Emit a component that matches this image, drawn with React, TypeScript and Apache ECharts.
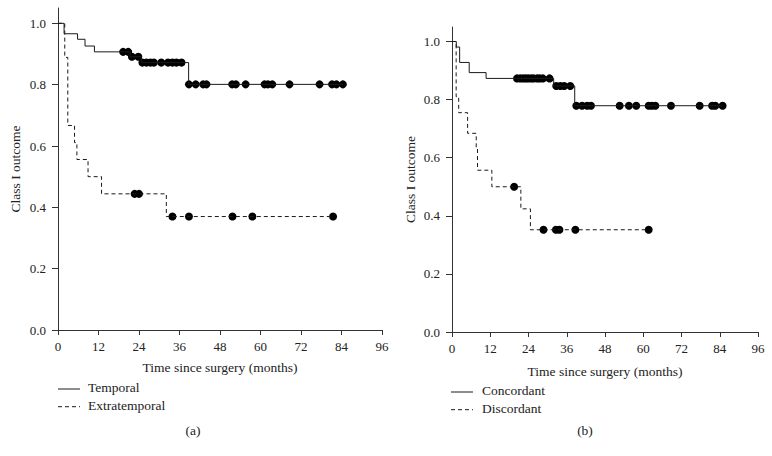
import React, { useEffect, useRef } from "react";
import * as echarts from "echarts";

const FONT = "'Liberation Serif', 'Times New Roman', serif";

const xTicks = [0, 12, 24, 36, 48, 60, 72, 84, 96];
const yTicks = [0, 0.2, 0.4, 0.6, 0.8, 1.0];

// Panel (a)
const temporalEventTimes = [1.8, 5.8, 8.0, 10.8, 21.4, 24.7, 38.7];
const temporalSurvival = [0.966, 0.948, 0.926, 0.907, 0.891, 0.872, 0.801];
const temporalCensored = [19.3, 20.8, 21.9, 23.8, 25.0, 26.2, 27.4, 28.4, 30.6, 32.6, 33.9, 35.1, 36.6, 38.8, 40.8, 43.0, 44.0, 51.6, 52.7, 55.6, 61.2, 62.2, 63.5, 68.6, 77.5, 81.2, 82.5, 84.4];

const extraEventTimes = [2.0, 2.9, 4.9, 5.6, 8.9, 12.9, 32.1];
const extraSurvival = [0.889, 0.667, 0.611, 0.556, 0.5, 0.444, 0.37];
const extraCensored = [22.7, 24.0, 33.9, 38.8, 51.7, 57.6, 81.5];

// Panel (b)
const concEventTimes = [1.35, 2.4, 5.4, 10.7, 31.9, 38.5];
const concSurvival = [0.981, 0.928, 0.893, 0.873, 0.847, 0.779];
const concCensored = [20.4, 21.4, 22.3, 23.1, 23.9, 24.8, 25.6, 26.7, 27.5, 28.5, 30.6, 32.7, 34.0, 35.2, 37.1, 39.0, 40.8, 42.4, 43.6, 52.6, 55.5, 57.8, 61.7, 62.7, 63.8, 68.7, 77.7, 81.6, 82.6, 84.9];

const discEventTimes = [1.3, 2.1, 4.9, 7.6, 8.0, 12.5, 21.6, 24.6];
const discSurvival = [0.81, 0.755, 0.684, 0.632, 0.557, 0.5, 0.424, 0.352];
const discCensored = [19.5, 28.7, 32.6, 33.7, 38.7, 61.7];

const legendA = ["Temporal", "Extratemporal"];
const legendB = ["Concordant", "Discordant"];
const panelLabels = ["(a)", "(b)"];

function survAt(times: number[], surv: number[], t: number) {
  let s = 1;
  for (let i = 0; i < times.length; i++) if (times[i] <= t) s = surv[i];
  return s;
}

function stepData(times: number[], surv: number[], censored: number[]) {
  const end = Math.max(...censored, ...times);
  const d: number[][] = [[0, 1]];
  times.forEach((t, i) => d.push([t, surv[i]]));
  d.push([end, survAt(times, surv, end)]);
  return d;
}

function censorData(times: number[], surv: number[], censored: number[]) {
  return censored.map((t) => [t, survAt(times, surv, t)]);
}

const LINE = "#1a1a1a";
const AXIS = "#333";
const TEXT = "#222";
const DASH = [4, 3];

function xAxisDef(gridIndex: number, nameGap: number) {
  return {
    type: "value",
    gridIndex,
    min: xTicks[0],
    max: xTicks[xTicks.length - 1],
    interval: xTicks[1] - xTicks[0],
    name: "Time since surgery (months)",
    nameLocation: "middle",
    nameGap,
    nameTextStyle: { fontFamily: FONT, fontSize: 13.5, color: TEXT },
    axisLine: { show: true, lineStyle: { color: AXIS, width: 1 } },
    axisTick: { show: true, length: 5, lineStyle: { color: AXIS } },
    axisLabel: { fontFamily: FONT, fontSize: 13, color: TEXT, margin: 10 },
    splitLine: { show: false },
  };
}

function yAxisDef(gridIndex: number, nameGap: number) {
  return {
    type: "value",
    gridIndex,
    min: 0,
    max: 1.05,
    name: "Class I outcome",
    nameLocation: "middle",
    nameGap,
    nameTextStyle: { fontFamily: FONT, fontSize: 13.5, color: TEXT },
    axisLine: { show: true, lineStyle: { color: AXIS, width: 1 } },
    axisTick: { show: true, length: 6, lineStyle: { color: AXIS }, customValues: yTicks },
    axisLabel: {
      fontFamily: FONT,
      fontSize: 13,
      color: TEXT,
      margin: 12,
      customValues: yTicks,
      formatter: (v: number) => v.toFixed(1),
    },
    splitLine: { show: false },
  };
}

function lineSeries(name: string, idx: number, data: number[][], dashed: boolean) {
  return {
    type: "line",
    name,
    xAxisIndex: idx,
    yAxisIndex: idx,
    step: "end",
    symbol: "none",
    data,
    lineStyle: { color: LINE, width: 1, type: dashed ? DASH : "solid" },
    itemStyle: { color: LINE },
    silent: true,
  };
}

function censorSeries(name: string, idx: number, data: number[][]) {
  return {
    type: "scatter",
    name,
    xAxisIndex: idx,
    yAxisIndex: idx,
    symbol: "circle",
    symbolSize: 8,
    data,
    itemStyle: { color: "#000", opacity: 1 },
    silent: true,
  };
}

function legendGraphics(names: string[], x: number, y: number, textX: number, gap: number) {
  const out: any[] = [];
  names.forEach((n, i) => {
    const yy = y + i * gap;
    out.push({
      type: "line",
      shape: { x1: x, y1: yy + 1.5, x2: x + 22, y2: yy + 1.5 },
      style: { stroke: LINE, lineWidth: 1, lineDash: i === 0 ? null : DASH },
    });
    out.push({
      type: "text",
      x: textX,
      y: yy,
      style: { text: n, fontFamily: FONT, fontSize: 13.5, fill: TEXT, align: "left", verticalAlign: "middle" },
    });
  });
  return out;
}

export default function App() {
  const ref = useRef<HTMLDivElement>(null);
  useEffect(() => {
    if (!ref.current) return;
    const chart = echarts.init(ref.current, undefined, { renderer: "svg" });
    chart.setOption({
      animation: false,
      backgroundColor: "#fff",
      grid: [
        { left: 58, top: 8, width: 324, height: 322 },
        { left: 452, top: 27, width: 306, height: 305 },
      ],
      xAxis: [xAxisDef(0, 30), xAxisDef(1, 32)],
      yAxis: [yAxisDef(0, 36), yAxisDef(1, 35)],
      series: [
        lineSeries("Temporal", 0, stepData(temporalEventTimes, temporalSurvival, temporalCensored), false),
        censorSeries("Temporal censored", 0, censorData(temporalEventTimes, temporalSurvival, temporalCensored)),
        lineSeries("Extratemporal", 0, stepData(extraEventTimes, extraSurvival, extraCensored), true),
        censorSeries("Extratemporal censored", 0, censorData(extraEventTimes, extraSurvival, extraCensored)),
        lineSeries("Concordant", 1, stepData(concEventTimes, concSurvival, concCensored), false),
        censorSeries("Concordant censored", 1, censorData(concEventTimes, concSurvival, concCensored)),
        lineSeries("Discordant", 1, stepData(discEventTimes, discSurvival, discCensored), true),
        censorSeries("Discordant censored", 1, censorData(discEventTimes, discSurvival, discCensored)),
      ],
      graphic: [
        ...legendGraphics(legendA, 58, 387.5, 88, 17.7),
        ...legendGraphics(legendB, 451, 390.5, 482, 17.7),
        {
          type: "text",
          x: 193,
          y: 430,
          style: { text: panelLabels[0], fontFamily: FONT, fontSize: 13.5, fill: TEXT, align: "center", verticalAlign: "middle" },
        },
        {
          type: "text",
          x: 585,
          y: 430,
          style: { text: panelLabels[1], fontFamily: FONT, fontSize: 13.5, fill: TEXT, align: "center", verticalAlign: "middle" },
        },
      ],
    });
    return () => chart.dispose();
  }, []);
  return (
    <div
      ref={ref}
      style={{ position: "absolute", left: 0, top: 0, width: 772, height: 456, background: "#fff" }}
    />
  );
}
